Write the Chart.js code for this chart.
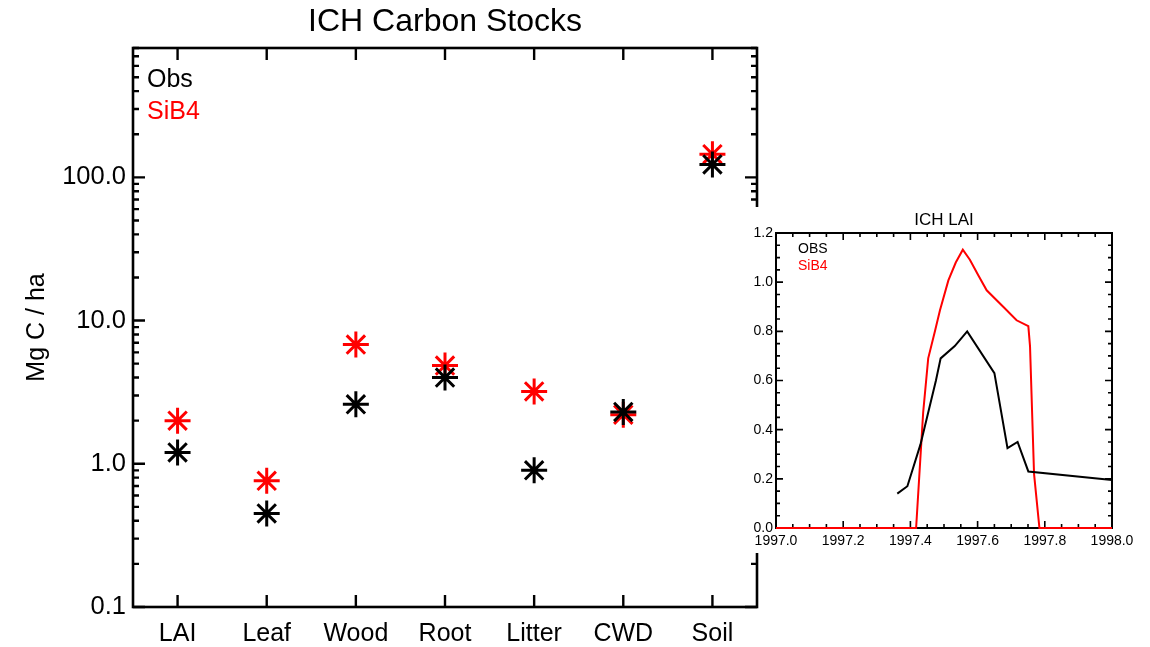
<!DOCTYPE html>
<html>
<head>
<meta charset="utf-8">
<title>ICH Carbon Stocks</title>
<script src="https://cdn.jsdelivr.net/npm/chart.js@4/dist/chart.umd.min.js"></script>
<style>
  html, body { margin: 0; padding: 0; background: #fff; }
  #wrap { position: relative; width: 1150px; height: 647px; overflow: hidden; }
  #stockChart { position: absolute; left: 0; top: 0; display: block; }
  #laiBox { position: absolute; left: 740px; top: 207px; width: 410px; height: 346px; background: #fff; }
  #laiChart { display: block; }
</style>
</head>
<body>
<div id="wrap">
  <canvas id="stockChart" width="1150" height="647"></canvas>
  <div id="laiBox"><canvas id="laiChart" width="410" height="346"></canvas></div>
</div>
<script>
// carbon pools, Mg C / ha
const pools = ['LAI', 'Leaf', 'Wood', 'Root', 'Litter', 'CWD', 'Soil'];
const obsStock = [1.2, 0.45, 2.6, 4.0, 0.9, 2.3, 123];
const sibStock = [2.0, 0.76, 6.8, 4.85, 3.2, 2.2, 145];
const stockTicks = [0.1, 1, 10, 100];

// LAI time series, 1997
const obsYear = [1997.361, 1997.391, 1997.43, 1997.476, 1997.49, 1997.532, 1997.569, 1997.65, 1997.689, 1997.719, 1997.751, 1998.0];
const obsLai = [0.14, 0.17, 0.34, 0.60, 0.69, 0.74, 0.80, 0.63, 0.325, 0.35, 0.23, 0.195];
const sibYear = [1997.0, 1997.417, 1997.438, 1997.453, 1997.473, 1997.488, 1997.513, 1997.535, 1997.556, 1997.577, 1997.602, 1997.627, 1997.677, 1997.716, 1997.751, 1997.756, 1997.768, 1997.784, 1998.0];
const sibLai = [0, 0, 0.47, 0.69, 0.80, 0.886, 1.007, 1.08, 1.132, 1.091, 1.028, 0.967, 0.899, 0.845, 0.821, 0.74, 0.22, 0, 0];
const yearTicks = [1997.0, 1997.2, 1997.4, 1997.6, 1997.8, 1998.0];
const laiTicks = [0, 0.2, 0.4, 0.6, 0.8, 1.0, 1.2];

const FONT = "'Liberation Sans', Arial, Helvetica, sans-serif";
Chart.defaults.font.family = FONT;
Chart.defaults.color = '#000';

// box frame with tick marks pointing into the plot, on all four sides
const frameTicks = {
  id: 'frameTicks',
  beforeDatasetsDraw(chart, args, o) {
    const { ctx, chartArea: a, scales: { x, y } } = chart;
    ctx.save();
    ctx.strokeStyle = '#000';
    ctx.lineWidth = o.tickWidth;
    ctx.beginPath();
    const xm = (vals, len) => vals.forEach(v => {
      const p = x.getPixelForValue(v);
      ctx.moveTo(p, a.bottom); ctx.lineTo(p, a.bottom - len);
      ctx.moveTo(p, a.top); ctx.lineTo(p, a.top + len);
    });
    const ym = (vals, len) => vals.forEach(v => {
      const p = y.getPixelForValue(v);
      ctx.moveTo(a.left, p); ctx.lineTo(a.left + len, p);
      ctx.moveTo(a.right, p); ctx.lineTo(a.right - len, p);
    });
    xm(o.xMajor, o.major); xm(o.xMinor, o.minor);
    ym(o.yMajor, o.major); ym(o.yMinor, o.minor);
    ctx.stroke();
    ctx.lineWidth = o.frameWidth;
    ctx.strokeRect(a.left, a.top, a.right - a.left, a.bottom - a.top);
    ctx.restore();
  }
};

// title above the plot box and the coloured series names inside it
const captions = {
  id: 'captions',
  afterDraw(chart, args, o) {
    const { ctx, chartArea: a } = chart;
    ctx.save();
    ctx.textAlign = 'center';
    ctx.textBaseline = 'middle';
    ctx.fillStyle = '#000';
    ctx.font = o.titleSize + 'px ' + FONT;
    ctx.fillText(o.title, (a.left + a.right) / 2, o.titleY);
    ctx.textAlign = 'left';
    ctx.textBaseline = 'alphabetic';
    ctx.font = o.keySize + 'px ' + FONT;
    o.keys.forEach((k, i) => {
      ctx.fillStyle = k.color;
      ctx.fillText(k.text, a.left + o.keyX, a.top + o.keyY + i * o.keyGap);
    });
    ctx.restore();
  }
};

const stockMinor = [];
stockTicks.forEach(d => { for (let k = 2; k <= 9; k++) if (d * k <= 800) stockMinor.push(d * k); });
const poolPos = pools.map((p, i) => i + 0.5);

new Chart(document.getElementById('stockChart'), {
  type: 'scatter',
  data: {
    datasets: [
      {
        label: 'Obs',
        data: obsStock.map((v, i) => ({ x: poolPos[i], y: v })),
        pointStyle: 'star', pointRadius: 13, pointBorderWidth: 3,
        pointBorderColor: '#000', pointBackgroundColor: '#000'
      },
      {
        label: 'SiB4',
        data: sibStock.map((v, i) => ({ x: poolPos[i], y: v })),
        pointStyle: 'star', pointRadius: 13, pointBorderWidth: 3,
        pointBorderColor: '#f00', pointBackgroundColor: '#f00'
      }
    ]
  },
  options: {
    responsive: false,
    animation: false,
    events: [],
    layout: { padding: { top: 48, right: 393, left: 0, bottom: 0 } },
    scales: {
      x: {
        type: 'linear', min: 0, max: 7, bounds: 'data',
        grid: { display: false, drawTicks: false }, border: { display: false },
        afterBuildTicks: s => { s.ticks = poolPos.map(v => ({ value: v })); },
        afterFit: s => { s.height = 40; },
        ticks: {
          autoSkip: false, maxRotation: 0, padding: 12,
          font: { size: 25 },
          callback: (v, i) => pools[i]
        }
      },
      y: {
        type: 'logarithmic', min: 0.1, max: 800, bounds: 'data',
        grid: { display: false, drawTicks: false }, border: { display: false },
        afterBuildTicks: s => { s.ticks = stockTicks.map(v => ({ value: v })); },
        afterFit: s => { s.width = 133; },
        title: { display: true, text: 'Mg C / ha', font: { size: 25 }, padding: { top: 22, bottom: 0 } },
        ticks: {
          autoSkip: false, padding: 7,
          font: { size: 25.5 },
          callback: v => Number(v).toFixed(1)
        }
      }
    },
    plugins: {
      legend: { display: false },
      tooltip: { enabled: false },
      frameTicks: {
        frameWidth: 2.6, tickWidth: 2.4, major: 12, minor: 6,
        xMajor: poolPos, xMinor: [], yMajor: stockTicks, yMinor: stockMinor
      },
      captions: {
        title: 'ICH Carbon Stocks', titleSize: 32, titleY: 22,
        keySize: 25, keyX: 14, keyY: 39, keyGap: 32,
        keys: [{ text: 'Obs', color: '#000' }, { text: 'SiB4', color: '#f00' }]
      }
    }
  },
  plugins: [frameTicks, captions]
});

const yearMinor = [];
for (let i = 0; i <= 20; i++) if (i % 4) yearMinor.push(1997 + i * 0.05);
const laiMinor = [];
for (let i = 0; i <= 24; i++) if (i % 4) laiMinor.push(i * 0.05);

new Chart(document.getElementById('laiChart'), {
  type: 'line',
  data: {
    datasets: [
      {
        label: 'OBS',
        data: obsYear.map((t, i) => ({ x: t, y: obsLai[i] })),
        borderColor: '#000', borderWidth: 2, pointRadius: 0, tension: 0, clip: false
      },
      {
        label: 'SiB4',
        data: sibYear.map((t, i) => ({ x: t, y: sibLai[i] })),
        borderColor: '#f00', borderWidth: 2, pointRadius: 0, tension: 0, clip: false
      }
    ]
  },
  options: {
    responsive: false,
    animation: false,
    events: [],
    layout: { padding: { top: 26, right: 38, left: 0, bottom: 0 } },
    scales: {
      x: {
        type: 'linear', min: 1997, max: 1998, bounds: 'data',
        grid: { display: false, drawTicks: false }, border: { display: false },
        afterBuildTicks: s => { s.ticks = yearTicks.map(v => ({ value: v })); },
        afterFit: s => { s.height = 25; },
        ticks: { autoSkip: false, maxRotation: 0, padding: 5, font: { size: 14 }, callback: v => Number(v).toFixed(1) }
      },
      y: {
        type: 'linear', min: 0, max: 1.2, bounds: 'data',
        grid: { display: false, drawTicks: false }, border: { display: false },
        afterBuildTicks: s => { s.ticks = laiTicks.map(v => ({ value: v })); },
        afterFit: s => { s.width = 36; },
        ticks: { autoSkip: false, padding: 3, font: { size: 14 }, callback: v => Number(v).toFixed(1) }
      }
    },
    plugins: {
      legend: { display: false },
      tooltip: { enabled: false },
      frameTicks: {
        frameWidth: 2, tickWidth: 1.6, major: 7, minor: 4,
        xMajor: yearTicks, xMinor: yearMinor, yMajor: laiTicks, yMinor: laiMinor
      },
      captions: {
        title: 'ICH LAI', titleSize: 17, titleY: 13.5,
        keySize: 14, keyX: 22, keyY: 20, keyGap: 17,
        keys: [{ text: 'OBS', color: '#000' }, { text: 'SiB4', color: '#f00' }]
      }
    }
  },
  plugins: [frameTicks, captions]
});
</script>
</body>
</html>
